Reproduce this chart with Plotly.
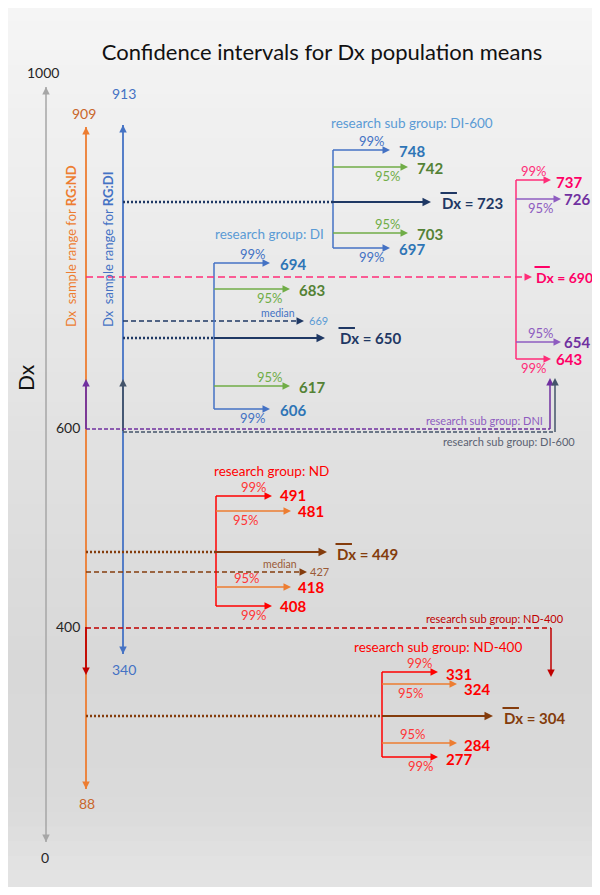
import plotly.graph_objects as go

# ---------------------------------------------------------------------------
# Data
# ---------------------------------------------------------------------------
TITLE = "Confidence intervals for Dx population means"
AXIS_NAME = "Dx"
AXIS_TICKS = ["1000", "600", "400", "0"]

RANGE_ND = [909, 88]      # sample range for research group ND (max, min)
RANGE_DI = [913, 340]     # sample range for research group DI (max, min)

CI_LEVELS = ["99%", "95%", "mean", "95%", "99%"]
DI600_VALUES = [748, 742, 723, 703, 697]
DI_VALUES = [694, 683, 650, 617, 606]
DI_MEDIAN = 669
DNI_VALUES = [737, 726, 690, 654, 643]
ND_VALUES = [491, 481, 449, 418, 408]
ND_MEDIAN = 427
ND400_VALUES = [331, 324, 304, 284, 277]

GROUP_NAMES = ["research sub group: DI-600", "research group: DI",
               "research group: ND", "research sub group: ND-400"]
SUBGROUP_NAMES = ["research sub group: DNI", "research sub group: DI-600",
                  "research sub group: ND-400"]
RANGE_NAMES = ["Dx  sample range for <b>RG:ND</b>", "Dx  sample range for <b>RG:DI</b>"]

# ---------------------------------------------------------------------------
# Styling / layout of the schematic (the original is not drawn to scale,
# so every row sits on a diagram position in page pixels)
# ---------------------------------------------------------------------------
PAGE_W, PAGE_H = 600, 895
OFFSET = 8                       # default body margin of the html page
FONT = "Lato"

GRAY = "#A6A6A6"
ORANGE = "#ED7D31"
ORANGE_T = "#C9662A"
BLUE = "#4472C4"
BLUE_V = "#2E75B6"
BLUE_L = "#5B9BD5"
GREEN = "#70AD47"
GREEN_V = "#548235"
NAVY = "#1F3864"
PINK = "#FF2D78"
PINK_V = "#FF0066"
PURPLE = "#7030A0"
PURPLE_L = "#8E5CC0"
RED = "#FF0000"
RED_L = "#FF3535"
DARK_RED = "#C00000"
BROWN = "#843C0C"
BROWN_L = "#9A5A36"
SLATE = "#44546A"
SLATE_T = "#5A6272"

X_AXIS, X_ND, X_DI = 46, 86, 123

BRACKETS = [
    dict(values=DI600_VALUES, rows=[150, 167, 202, 233, 248], stem=333,
         ends=[390, 408, 431, 408, 390], text_x=[397, 415, 440, 415, 397],
         text_dy=[1, 1, 1, 1, 1], mean_size=15,
         pct_x=[372, 388, None, 388, 372], mean_from=X_DI, mean_dash="dot",
         line=[BLUE, GREEN, NAVY, GREEN, BLUE], text=[BLUE_V, GREEN_V, NAVY, GREEN_V, BLUE_V],
         pct=[BLUE, GREEN, None, GREEN, BLUE]),
    dict(values=DI_VALUES, rows=[263, 289, 338, 386, 409], stem=214,
         ends=[270, 290, 325, 290, 270], text_x=[278, 297, 338, 297, 278],
         text_dy=[1, 1, 0, 1, 1], mean_size=15,
         pct_x=[253, 270, None, 270, 253], mean_from=X_DI, mean_dash="dot",
         line=[BLUE, GREEN, NAVY, GREEN, BLUE], text=[BLUE_V, GREEN_V, NAVY, GREEN_V, BLUE_V],
         pct=[BLUE, GREEN, None, GREEN, BLUE]),
    dict(values=DNI_VALUES, rows=[180, 199, 277, 342, 359], stem=516,
         ends=[551, 561, 532, 561, 551], text_x=[554, 562, 534, 562, 554],
         text_dy=[2, 0, 0, 0, 0], mean_size=14,
         pct_x=[534, 541, None, 541, 534], mean_from=X_ND, mean_dash="dash",
         line=[PINK, PURPLE_L, PINK, PURPLE_L, PINK], text=[PINK_V, PURPLE, PINK_V, PURPLE, PINK_V],
         pct=[PINK, PURPLE_L, None, PURPLE_L, PINK]),
    dict(values=ND_VALUES, rows=[496, 511, 552, 587, 606], stem=216,
         ends=[272, 291, 327, 291, 272], text_x=[278, 296, 335, 296, 278],
         text_dy=[-1, 0, 2, 0, 0], mean_size=15,
         pct_x=[254, 246, None, 247, 254], mean_from=X_ND, mean_dash="dot",
         line=[RED, ORANGE, BROWN, ORANGE, RED], text=[RED, RED, BROWN, RED, RED],
         pct=[RED_L, RED_L, None, RED_L, RED_L]),
    dict(values=ND400_VALUES, rows=[672, 684, 716, 743, 757], stem=382,
         ends=[438, 457, 493, 457, 438], text_x=[444, 462, 502, 462, 444],
         text_dy=[2, 5, 2, 2, 2], mean_size=15,
         pct_x=[420, 411, None, 413, 421], mean_from=X_ND, mean_dash="dot",
         line=[RED, ORANGE, BROWN, ORANGE, RED], text=[RED, RED, BROWN, RED, RED],
         pct=[RED_L, RED_L, None, RED_L, RED_L]),
]

fig = go.Figure()
ann = []
shapes = []


def seg(xs, ys, color, width, dash="solid"):
    fig.add_trace(go.Scatter(x=xs, y=ys, mode="lines", hoverinfo="skip", showlegend=False,
                             line=dict(color=color, width=width, dash=dash)))


def head(x, y, dx, dy, color, width=1.5, size=1.0):
    """Arrowhead with its tip at (x, y), pointing along (dx, dy)."""
    ann.append(dict(x=x, y=y, ax=x - dx, ay=y - dy, xref="x", yref="y", axref="x", ayref="y",
                    text="", showarrow=True, arrowhead=2, arrowsize=size, arrowwidth=width,
                    arrowcolor=color, standoff=0))


def label(x, y, text, color, size, xanchor="center", angle=0):
    ann.append(dict(x=x, y=y, xref="x", yref="y", text=text, showarrow=False,
                    xanchor=xanchor, yanchor="middle", textangle=angle,
                    font=dict(family=FONT, size=size, color=color)))


def mean_label(x, y, value, color, size):
    label(x, y, f"<b>Dx = {value}</b>", color, size, "left")
    shapes.append(dict(type="line", xref="x", yref="y", x0=x + 0.5, x1=x + 1.13 * size,
                       y0=y - 10, y1=y - 10, line=dict(color=color, width=2)))


# background gradient
stops = [(0.0, 0xF5), (0.25, 0xEC), (0.5, 0xE1), (0.75, 0xD8), (0.9, 0xDA), (1.0, 0xE4)]
bands = 60
for i in range(bands):
    t = (i + 0.5) / bands
    for (t0, c0), (t1, c1) in zip(stops, stops[1:]):
        if t0 <= t <= t1:
            c = int(round(c0 + (c1 - c0) * (t - t0) / (t1 - t0)))
            break
    shapes.append(dict(type="rect", xref="paper", yref="paper", x0=0, x1=1,
                       y0=1 - (i + 1) / bands, y1=1 - i / bands + 0.002, layer="below",
                       line=dict(width=0), fillcolor=f"rgb({c},{c},{c})"))

# Dx axis
seg([X_AXIS, X_AXIS], [842, 87], GRAY, 1.5)
head(X_AXIS, 87, 0, -6, GRAY)
head(X_AXIS, 842, 0, 6, GRAY)
for (tx, ty, anchor), txt in zip([(43, 72, "center"), (82, 427, "right"), (82, 626, "right"),
                                  (45, 857, "center")], AXIS_TICKS):
    label(tx, ty, txt, "#262626", 14, anchor)
label(25, 378, AXIS_NAME, "#111111", 21, angle=-90)

# sample ranges
seg([X_ND, X_ND], [789, 127], ORANGE, 1.8)
head(X_ND, 127, 0, -6, ORANGE, 1.5)
head(X_ND, 789, 0, 6, ORANGE, 1.5)
seg([X_DI, X_DI], [654, 125], BLUE, 1.8)
head(X_DI, 125, 0, -6, BLUE, 1.5)
head(X_DI, 654, 0, 6, BLUE, 1.5)
label(X_ND - 2, 113, str(RANGE_ND[0]), ORANGE_T, 14)
label(X_ND + 1, 803, str(RANGE_ND[1]), ORANGE_T, 14)
label(X_DI + 1, 93, str(RANGE_DI[0]), BLUE, 14)
label(X_DI + 1, 669, str(RANGE_DI[1]), BLUE, 14)
label(71, 246, RANGE_NAMES[0], ORANGE, 13, angle=-90)
label(108, 249, RANGE_NAMES[1], BLUE, 13, angle=-90)

# sub group cut-offs (DNI and DI-600 at 600, ND-400 at 400)
seg([X_ND, X_ND], [429, 381], PURPLE, 1.8)
head(X_ND, 379, 0, -6, PURPLE)
seg([X_DI, X_DI], [431, 381], SLATE, 1.8)
head(X_DI, 379, 0, -6, SLATE)
seg([X_ND, 550], [429, 429], PURPLE, 1.5, "4px,2px")
seg([550, 550], [429, 380], PURPLE, 1.5)
head(550, 378, 0, -6, PURPLE)
seg([X_DI, 555], [432, 432], SLATE, 1.5, "4px,2px")
seg([555, 555], [432, 380], SLATE, 1.5)
head(555, 378, 0, -6, SLATE)
label(545, 420, SUBGROUP_NAMES[0], PURPLE_L, 11, "right")
label(577, 441, SUBGROUP_NAMES[1], SLATE_T, 11, "right")

seg([X_ND, X_ND], [627, 673], DARK_RED, 1.8)
head(X_ND, 675, 0, 6, DARK_RED)
seg([X_ND, 551], [628, 628], DARK_RED, 1.3, "5px,3px")
seg([551, 551], [628, 675], DARK_RED, 1.5)
head(551, 677, 0, 6, DARK_RED)
label(566, 618, SUBGROUP_NAMES[2], DARK_RED, 11, "right")

# group titles
label(329, 123, GROUP_NAMES[0], BLUE_L, 13.5, "left")
label(213, 234, GROUP_NAMES[1], BLUE_L, 13.5, "left")
label(212, 471, GROUP_NAMES[2], RED, 13.5, "left")
label(352, 647, GROUP_NAMES[3], RED, 13.5, "left")

# medians
seg([X_DI, 300], [321, 321], NAVY, 1.5, "5px,3px")
head(304, 321, 6, 0, NAVY)
label(278, 313, "median", BLUE, 10.5)
label(307, 320, str(DI_MEDIAN), BLUE_L, 11, "left")
seg([X_ND, 303], [572, 572], BROWN, 1.5, "5px,3px")
head(307, 572, 6, 0, BROWN)
label(280, 564, "median", BROWN_L, 10.5)
label(308, 571, str(ND_MEDIAN), BROWN_L, 11, "left")

# confidence interval brackets
for b in BRACKETS:
    r, e, stem = b["rows"], b["ends"], b["stem"]
    seg([stem, stem], [r[0], r[4]], b["line"][0], 1.5)
    for i, level in enumerate(CI_LEVELS):
        if level == "mean":
            continue
        seg([stem, e[i] - 3], [r[i], r[i]], b["line"][i], 1.5)
        head(e[i], r[i], 6, 0, b["line"][i])
        label(b["text_x"][i], r[i] + b["text_dy"][i], f"<b>{b['values'][i]}</b>",
              b["text"][i], 15, "left")
        dy = -9 if i in (0, 3) else 9
        label(b["pct_x"][i], r[i] + dy, level, b["pct"][i], 13)
    y = r[2]
    if b["mean_dash"] == "dash":
        seg([b["mean_from"], e[2] - 3], [y, y], b["line"][2], 1.6, "7px,4px")
        head(e[2], y, 6, 0, b["line"][2])
    else:
        seg([b["mean_from"], stem], [y, y], b["line"][2], 2.6, "2px,2px")
        seg([stem, e[2] - 4], [y, y], b["line"][2], 2.2)
        head(e[2], y, 7, 0, b["line"][2], 2.0, 0.85)
    mean_label(b["text_x"][2], y + b["text_dy"][2], b["values"][2], b["text"][2], b["mean_size"])

# the page adds an 8px body margin on every side; keep the figure inside the window
fig.update_layout(
    width=PAGE_W - 2 * OFFSET, height=PAGE_H - 2 * OFFSET, margin=dict(l=0, r=0, t=0, b=0),
    paper_bgcolor="#E6E6E6", plot_bgcolor="rgba(0,0,0,0)",
    xaxis=dict(range=[OFFSET, PAGE_W - OFFSET], visible=False, fixedrange=True),
    yaxis=dict(range=[PAGE_H - OFFSET, OFFSET], visible=False, fixedrange=True),
    title=dict(text=TITLE, x=(322 - OFFSET) / (PAGE_W - 2 * OFFSET), xanchor="center",
               y=1 - (52 - OFFSET) / (PAGE_H - 2 * OFFSET), yanchor="middle",
               font=dict(family=FONT, size=22, color="#111111")),
    annotations=ann, shapes=shapes, showlegend=False,
)

fig.write_html("out.html")
